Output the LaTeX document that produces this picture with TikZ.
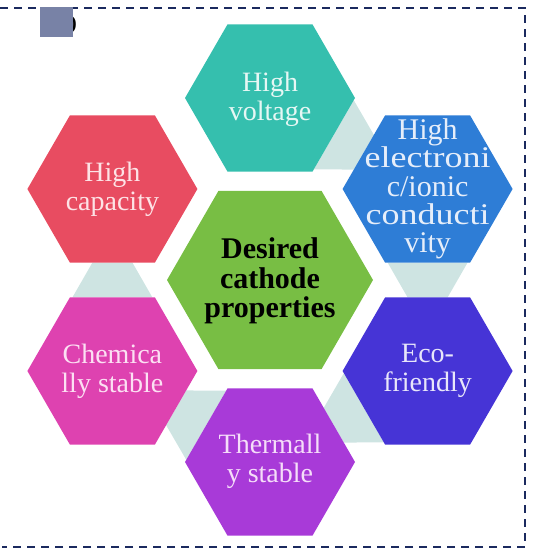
\documentclass[tikz,border=0pt]{standalone}
\usepackage{fontspec}
\setmainfont{Liberation Serif}
\usepackage{graphicx}
\definecolor{hteal}{HTML}{35BFAE}
\definecolor{hred}{HTML}{E84C61}
\definecolor{hblue}{HTML}{2E7DD6}
\definecolor{hgreen}{HTML}{78BE44}
\definecolor{hmag}{HTML}{DE42B0}
\definecolor{hindigo}{HTML}{4634D6}
\definecolor{hpurple}{HTML}{A83AD8}
\definecolor{bridgec}{HTML}{CEE4E2}
\definecolor{sqc}{HTML}{7882A6}
\definecolor{borderc}{HTML}{1B2A5E}
\definecolor{tteal}{HTML}{E6F7F4}
\definecolor{tred}{HTML}{FDE3E6}
\definecolor{tblue}{HTML}{E6EEFA}
\definecolor{tmag}{HTML}{FCE0F3}
\definecolor{tindigo}{HTML}{E8E6FA}
\definecolor{tpurple}{HTML}{F5DDF9}
\newcommand{\hexfill}[3]{\fill[#3] (#1) +(0:#2) -- +(60:#2) -- +(120:#2) -- +(180:#2) -- +(240:#2) -- +(300:#2) -- cycle;}
\begin{document}
\begin{tikzpicture}[x=0.75pt,y=-0.75pt,
  outtxt/.style={align=center, inner sep=0pt, font=\fontsize{21}{21.6}\selectfont},
  ctrtxt/.style={align=center, inner sep=0pt, font=\fontsize{22.5}{22.1}\selectfont\bfseries, text=black},
  bridge/.style={fill=bridgec},
  frame/.style={draw=borderc, line width=1.5pt, dash pattern=on 6pt off 4.5pt}]
\useasboundingbox (0,0) rectangle (533,554);
% centres
\coordinate (cC) at (270,280);
\coordinate (cT) at (270,98);
\coordinate (cB) at (427.6,189);
\coordinate (cI) at (427.6,371);
\coordinate (cP) at (270,462);
\coordinate (cM) at (112.4,371);
\coordinate (cR) at (112.4,189);
% frame
\draw[frame] (0,8) -- (525,8) -- (525,547) -- (2,547);
% label remnant
\node[inner sep=0pt, anchor=east, font=\fontsize{15}{15}\selectfont\bfseries] (lbl) at (77,25) {)};
\fill[sqc] (40,7) rectangle (73,37);
% bridges
\fill[bridge] (353.74,100.16) -- (313.74,169.44) -- (353.88,169.52) -- (373.88,134.88) -- cycle;
\fill[bridge] (387.6,262.6) -- (467.6,262.6) -- (447.6,297.4) -- (407.6,297.4) -- cycle;
\fill[bridge] (383.86,442.44) -- (343.86,373.16) -- (323.72,407.88) -- (343.72,442.52) -- cycle;
\fill[bridge] (226.26,390.56) -- (186.26,459.84) -- (166.12,425.12) -- (186.12,390.48) -- cycle;
\fill[bridge] (72.4,297.4) -- (152.4,297.4) -- (132.4,262.6) -- (92.4,262.6) -- cycle;
% hexagons
\hexfill{cC}{103}{hgreen}
\hexfill{cT}{85}{hteal}
\hexfill{cB}{85}{hblue}
\hexfill{cI}{85}{hindigo}
\hexfill{cP}{85}{hpurple}
\hexfill{cM}{85}{hmag}
\hexfill{cR}{85}{hred}
% texts
\node[ctrtxt] (tC) at (270,281) {Desired\\cathode\\properties};
\node[outtxt, text=tteal] (tT) at (270,99) {High\\voltage};
\node[outtxt, text=tblue, font=\fontsize{22.5}{21.2}\selectfont] (tB) at (cB) {High\\\scalebox{1.2}[1]{electroni}\\c/ionic\\\scalebox{1.2}[1]{conducti}\\vity};
\node[outtxt, text=tindigo] (tI) at (427.6,371) {Eco-\\friendly};
\node[outtxt, text=tpurple] (tP) at (270,461) {Thermall\\y stable};
\node[outtxt, text=tmag] (tM) at (112.4,371) {Chemica\\lly stable};
\node[outtxt, text=tred] (tR) at (112.4,189) {High\\capacity};
\end{tikzpicture}
\end{document}
